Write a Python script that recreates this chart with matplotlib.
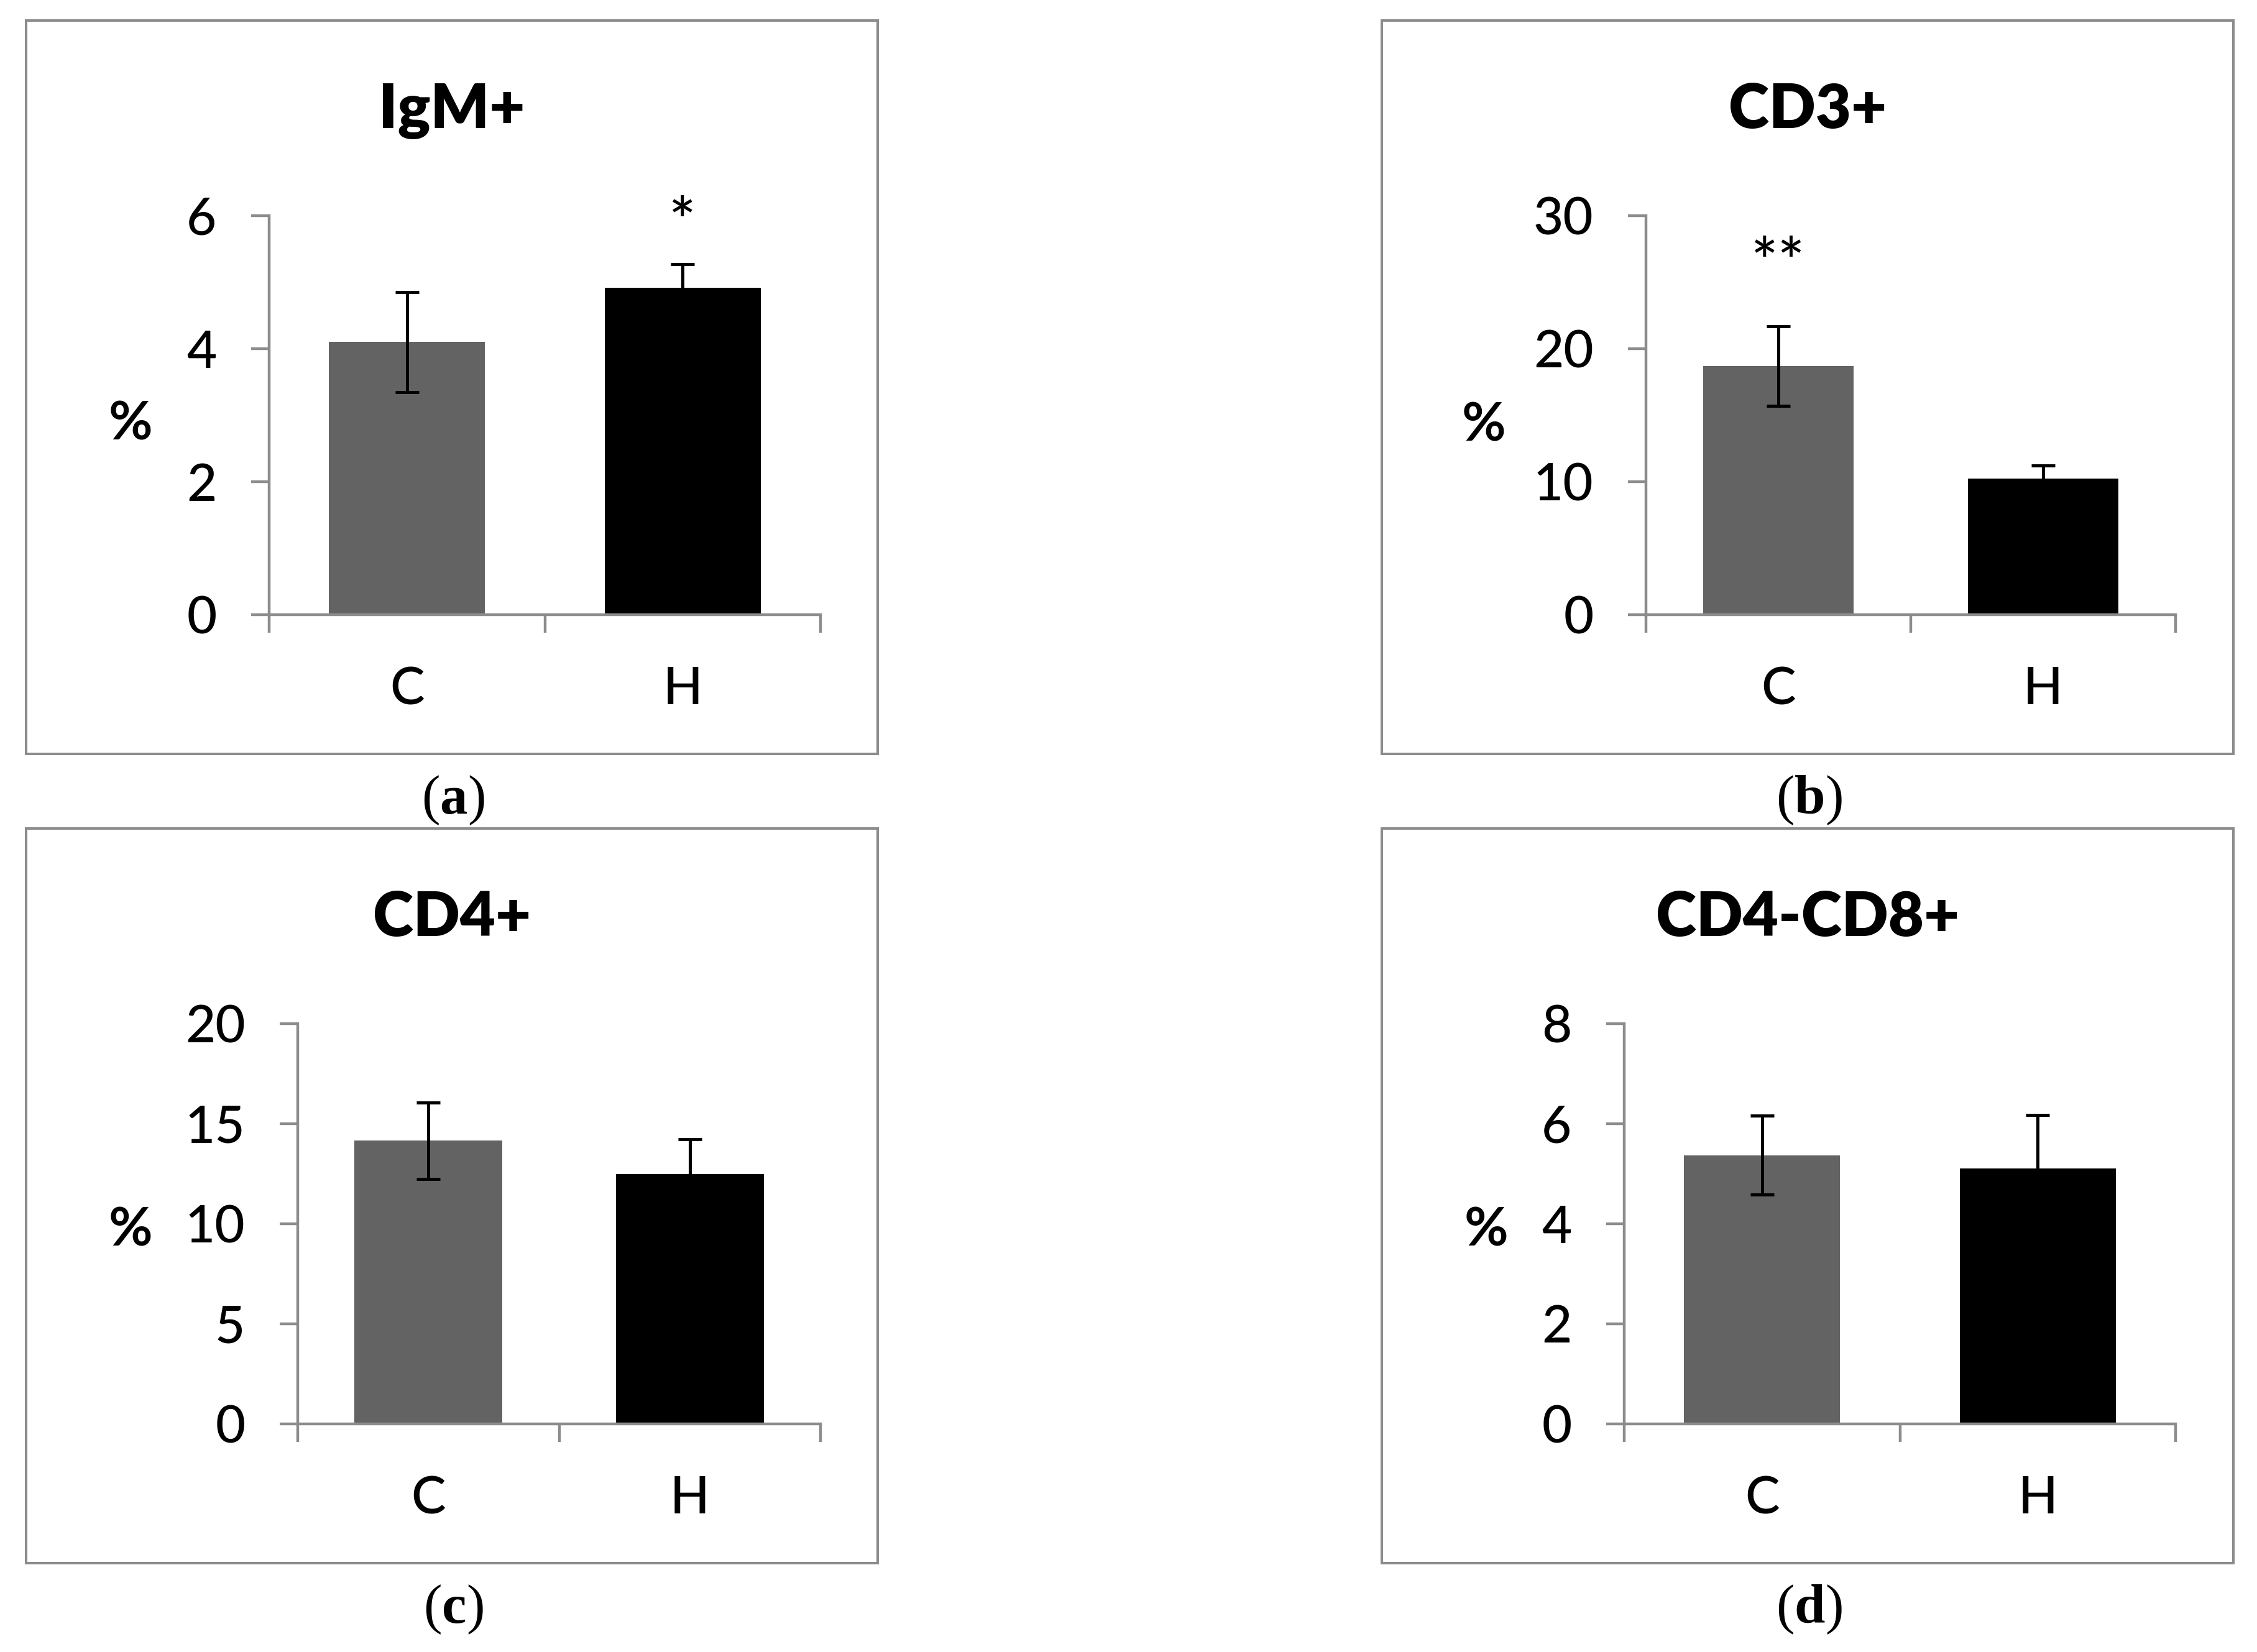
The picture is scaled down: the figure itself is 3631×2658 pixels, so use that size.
import numpy as np
import matplotlib
matplotlib.use('Agg')
import matplotlib.pyplot as plt
from matplotlib.patches import Rectangle

plt.rcParams['font.family'] = ['Lato', 'DejaVu Sans']
plt.rcParams['mathtext.fontset'] = 'custom'
plt.rcParams['mathtext.rm'] = 'Liberation Serif'
plt.rcParams['mathtext.bf'] = 'Liberation Serif:bold'

# data
categories = ['C', 'H']
titles = ['IgM+', 'CD3+', 'CD4+', 'CD4-CD8+']
captions = ['a', 'b', 'c', 'd']
mean_c = [4.10, 18.7, 14.15, 5.37]
mean_h = [4.92, 10.25, 12.47, 5.11]
err_c = [0.75, 3.0, 1.9, 0.79]
err_h = [0.35, 0.95, 1.74, 1.06]
y_max = [6, 30, 20, 8]
y_step = [2, 10, 5, 2]
sig_text = ['*', '**', '', '']
sig_bar = [1, 0, None, None]

W, H = 3631, 2658
GRAY = '#8c8c8c'
BAR_COLORS = ['#636363', '#000000']

# layout in pixels (left, right, top, bottom)
axes_px = [(433, 1320, 347, 989), (2648, 3500, 347, 989),
           (479, 1320, 1647, 2291), (2613, 3500, 1647, 2291)]
box_px = [(42, 1412, 33, 1213), (2223, 3593, 33, 1213),
          (42, 1412, 1333, 2515), (2223, 3593, 1333, 2515)]
pct_px = [(210, 683), (2387, 685), (210, 1980), (2391, 1980)]
sig_frac = [0.93, 0.828, 0, 0]


def fx(x):
    return x / W


def fy(y):
    return 1 - y / H


fig = plt.figure(figsize=(W / 100, H / 100), dpi=100)

for i in range(4):
    l, r, t, b = axes_px[i]
    ax = fig.add_axes([fx(l), fy(b), fx(r) - fx(l), fy(t) - fy(b)])
    x = np.arange(len(categories))
    vals = [mean_c[i], mean_h[i]]
    errs = [err_c[i], err_h[i]]
    ax.bar(x, vals, width=0.566, color=BAR_COLORS, zorder=2)
    ax.errorbar(x, vals, yerr=errs, fmt='none', ecolor='black',
                elinewidth=3.6, capsize=13.7, capthick=3.6, zorder=3)
    ax.set_xlim(-0.5, 1.5)
    ax.set_ylim(0, y_max[i])
    yt = np.arange(0, y_max[i] + y_step[i] / 2, y_step[i])
    ax.set_yticks(yt, [str(int(v)) for v in yt])
    ax.set_xticks(x, categories)
    ax.set_xticks([-0.5, 0.5, 1.5], minor=True)
    for s in ['top', 'right']:
        ax.spines[s].set_visible(False)
    for s in ['left', 'bottom']:
        ax.spines[s].set_color(GRAY)
        ax.spines[s].set_linewidth(3.2)
    ax.tick_params(axis='y', which='major', direction='out', length=20.9,
                   width=3.2, color=GRAY, pad=40, labelsize=60)
    ax.tick_params(axis='x', which='major', length=0, pad=60, labelsize=60)
    ax.tick_params(axis='x', which='minor', direction='out', length=21,
                   width=3.2, color=GRAY)
    for lab in ax.get_xticklabels() + ax.get_yticklabels():
        lab.set_fontweight('medium')
    ax.set_facecolor('none')

    if sig_text[i]:
        ax.text(x[sig_bar[i]], sig_frac[i] * y_max[i], sig_text[i],
                ha='center', va='baseline', fontsize=74, fontweight='medium',
                clip_on=False)

    bl, br, bt, bb = box_px[i]
    fig.patches.append(Rectangle((fx(bl), fy(bb)), fx(br) - fx(bl), fy(bt) - fy(bb),
                                 transform=fig.transFigure, fill=False,
                                 edgecolor=GRAY, linewidth=2.9, zorder=0))
    cx = (bl + br) / 2
    fig.text(fx(cx), fy(bt + 173), titles[i], ha='center', va='baseline',
             fontsize=71, fontweight='heavy')
    fig.text(fx(pct_px[i][0]), fy(pct_px[i][1]), '%', ha='center', va='center',
             fontsize=62, fontweight='bold')
    fig.text(fx(cx + 2), fy(bb + 75), r'$(\mathbf{' + captions[i] + '})$',
             ha='center', va='center', fontsize=64)

fig.savefig('out.png', dpi=100, facecolor='white')
